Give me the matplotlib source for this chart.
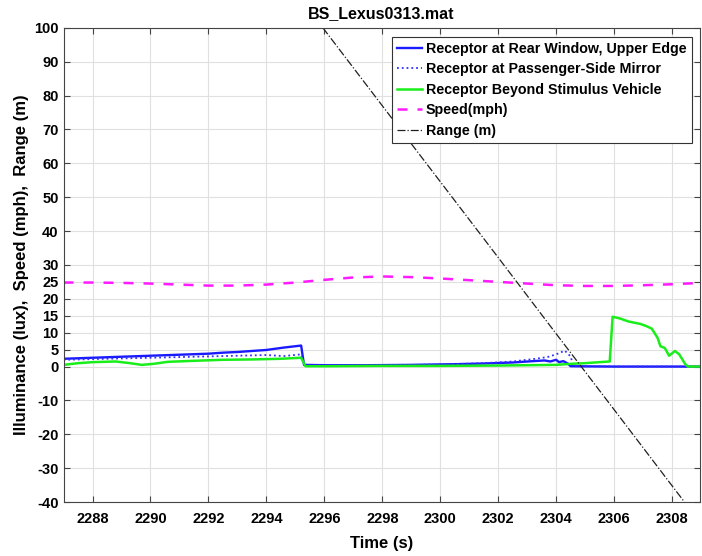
import numpy as np
import matplotlib.pyplot as plt

plt.rcParams['font.family'] = ['Liberation Sans', 'DejaVu Sans']
plt.rcParams['font.weight'] = 'bold'
plt.rcParams['axes.unicode_minus'] = False

# receptor at rear window, upper edge (lux)
t_rear = [2287.0, 2288.0, 2289.0, 2290.0, 2291.0, 2292.0, 2292.5, 2293.0, 2294.0, 2294.6, 2295.2,
          2295.3, 2296.0, 2297.5, 2299.0, 2300.5, 2301.5, 2302.5, 2303.2, 2303.6, 2303.8, 2304.0,
          2304.1, 2304.25, 2304.4, 2304.5, 2306.0, 2309.0]
v_rear = [2.3, 2.6, 2.9, 3.2, 3.5, 3.8, 4.1, 4.3, 4.9, 5.6, 6.2,
          0.5, 0.4, 0.4, 0.5, 0.7, 0.9, 1.2, 1.6, 1.8, 1.5, 2.0,
          1.3, 1.6, 0.9, 0.1, 0.0, 0.0]

# receptor at passenger-side mirror (lux)
t_mirror = [2287.0, 2288.0, 2289.0, 2290.0, 2291.0, 2292.0, 2293.0, 2294.0, 2294.6, 2295.2,
            2295.3, 2296.0, 2298.0, 2300.0, 2301.5, 2302.5, 2303.2, 2303.7, 2304.0, 2304.3,
            2304.5, 2304.6, 2306.0, 2309.0]
v_mirror = [2.0, 2.2, 2.4, 2.6, 2.8, 3.0, 3.2, 3.4, 3.1, 3.6,
            0.4, 0.3, 0.4, 0.6, 1.0, 1.5, 2.2, 2.8, 3.6, 4.7,
            3.0, 0.1, 0.0, 0.0]

# receptor beyond stimulus vehicle (lux)
t_beyond = [2287.0, 2287.5, 2288.0, 2288.8, 2289.3, 2289.7, 2290.1, 2290.6, 2291.5, 2292.5,
            2293.5, 2294.5, 2295.2, 2295.35, 2296.0, 2298.0, 2300.0, 2302.0, 2304.0, 2304.5,
            2305.0, 2305.5, 2305.85, 2305.95, 2306.2, 2306.5, 2306.9, 2307.1, 2307.3, 2307.5,
            2307.6, 2307.75, 2307.9, 2308.1, 2308.25, 2308.45, 2308.55, 2309.0]
v_beyond = [0.5, 1.0, 1.3, 1.5, 1.0, 0.5, 0.8, 1.4, 1.7, 2.0,
            2.1, 2.3, 2.6, 0.1, 0.1, 0.2, 0.2, 0.3, 0.5, 0.8,
            1.0, 1.3, 1.5, 14.7, 14.2, 13.3, 12.6, 12.0, 11.2, 8.5,
            6.0, 5.5, 3.2, 4.6, 3.6, 0.8, 0.0, 0.0]

# vehicle speed (mph)
t_speed = [2287, 2288, 2289, 2290, 2291, 2292, 2293, 2294, 2295, 2296, 2297, 2298,
           2299, 2300, 2301, 2302, 2303, 2304, 2305, 2306, 2307, 2308, 2309]
v_speed = [24.8, 24.8, 24.7, 24.5, 24.2, 23.9, 23.9, 24.2, 24.8, 25.6, 26.3, 26.6,
           26.4, 26.0, 25.5, 25.0, 24.5, 24.0, 23.8, 23.8, 24.0, 24.3, 24.7]

# range to stimulus vehicle (m)
t_range = [2295.95, 2298.0, 2300.0, 2302.0, 2304.0, 2306.0, 2308.43]
v_range = [100.0, 77.0, 54.6, 32.2, 9.7, -12.7, -40.0]

fig = plt.figure(figsize=(7.02, 5.56), dpi=100)
ax = fig.add_axes([0.0905, 0.097, 0.906, 0.853])

ax.plot(t_rear, v_rear, color='#1a1aff', lw=1.7, label='Receptor at Rear Window, Upper Edge')
ax.plot(t_mirror, v_mirror, color='#3030ff', lw=1.3, ls=':', label='Receptor at Passenger-Side Mirror')
ax.plot(t_beyond, v_beyond, color='#1aee1a', lw=1.8, label='Receptor Beyond Stimulus Vehicle')
ax.plot(t_speed, v_speed, color='#ff1aff', lw=1.8, ls=(0, (4, 4)), label='Speed(mph)')
ax.plot(t_range, v_range, color='#202020', lw=0.9, ls='-.', label='Range (m)')

ax.set_xlim(2287, 2308.95)
ax.set_ylim(-40, 100)
ax.set_xticks(np.arange(2288, 2309, 2))
ax.set_yticks([-40, -30, -20, -10, 0, 5, 10, 15, 20, 25, 30, 40, 50, 60, 70, 80, 90, 100])
ax.tick_params(direction='in', top=True, right=True, labelsize=10.5, length=4,
               color='#444444')
ax.tick_params(axis='x', pad=7)
for lab in ax.get_xticklabels() + ax.get_yticklabels():
    lab.set_fontweight('bold')
ax.grid(True, color='#e0e0e0', lw=0.8)
ax.set_axisbelow(True)
for s in ax.spines.values():
    s.set_color('#444444')
    s.set_linewidth(0.8)

ax.set_title('BS_Lexus0313.mat', fontsize=11.5, fontweight='bold', pad=7)
ax.set_xlabel('Time (s)', fontsize=12, fontweight='bold', labelpad=7)
ax.set_ylabel('Illuminance (lux),  Speed (mph),  Range (m)', fontsize=12, fontweight='bold',
              labelpad=4)

leg = ax.legend(loc='upper right', fontsize=10.3, handlelength=1.75, handletextpad=0.3,
                labelspacing=0.45, borderpad=0.35, borderaxespad=0, fancybox=False,
                framealpha=1, edgecolor='#333333', bbox_to_anchor=(0.9875, 0.981))
leg.get_frame().set_linewidth(0.8)
for txt in leg.get_texts():
    txt.set_fontweight('bold')

fig.savefig('out.png', dpi=100)
